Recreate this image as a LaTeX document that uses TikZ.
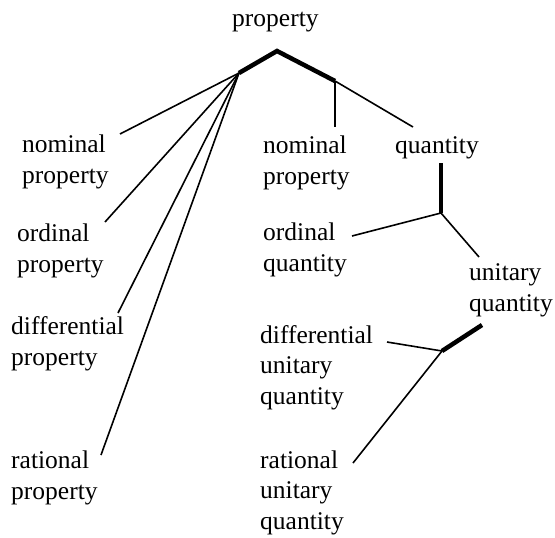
\documentclass[tikz,border=0pt]{standalone}
\usepackage{fontspec}
\setmainfont{Liberation Serif}
\begin{document}
\begin{tikzpicture}[x=1pt,y=-1pt,
  lbl/.style={anchor=base west,inner sep=0pt,align=left,font=\fontsize{25.5}{30.5}\selectfont},
  thin/.style={line width=1.6pt},
  thick/.style={line width=4.5pt}]
\useasboundingbox (0,0) rectangle (555,538);
% labels (anchor = baseline of last line)
\node[lbl] (prop) at (232,27) {property};
\node[lbl] (nomP) at (22,183) {nominal\\property};
\node[lbl] (ordP) at (17,272) {ordinal\\property};
\node[lbl] (difP) at (11,365) {differential\\property};
\node[lbl] (ratP) at (11,499) {rational\\property};
\node[lbl] (nomQ) at (263,184) {nominal\\property};
\node[lbl] (quan) at (395,153) {quantity};
\node[lbl] (ordQ) at (263,271) {ordinal\\quantity};
\node[lbl] (uniQ) at (469,311) {unitary\\quantity};
\node[lbl] (difQ) at (260,404) {differential\\unitary\\quantity};
\node[lbl] (ratQ) at (260,529) {rational\\unitary\\quantity};
% junctions and ends
\coordinate (apex) at (277,51);
\coordinate (jl) at (239,73);
\coordinate (jr) at (335,81);
\coordinate (eNomP) at (120,134);
\coordinate (eOrdP) at (105,222);
\coordinate (eDifP) at (118,313);
\coordinate (eRatP) at (101,455);
\coordinate (eNomQ) at (335,127);
\coordinate (eQuan) at (413,127);
\coordinate (tQuan) at (441,163);
\coordinate (jq) at (441,213);
\coordinate (eOrdQ) at (352,236);
\coordinate (eUniQ) at (479,257);
\coordinate (tUniQ) at (482,325);
\coordinate (ju) at (442,351);
\coordinate (eDifQ) at (387,342);
\coordinate (eRatQ) at (353,463);
% connectors
\draw[thick,line join=miter] (jl) -- (apex) -- (jr);
\draw[thin] (jl) -- (eNomP);
\draw[thin] (jl) -- (eOrdP);
\draw[thin] (jl) -- (eDifP);
\draw[thin] (jl) -- (eRatP);
\draw[thin] (jr) -- (eNomQ);
\draw[thin] (jr) -- (eQuan);
\draw[thick] (tQuan) -- (jq);
\draw[thin] (jq) -- (eOrdQ);
\draw[thin] (jq) -- (eUniQ);
\draw[thick] (tUniQ) -- (ju);
\draw[thin] (ju) -- (eDifQ);
\draw[thin] (ju) -- (eRatQ);
\end{tikzpicture}
\end{document}
